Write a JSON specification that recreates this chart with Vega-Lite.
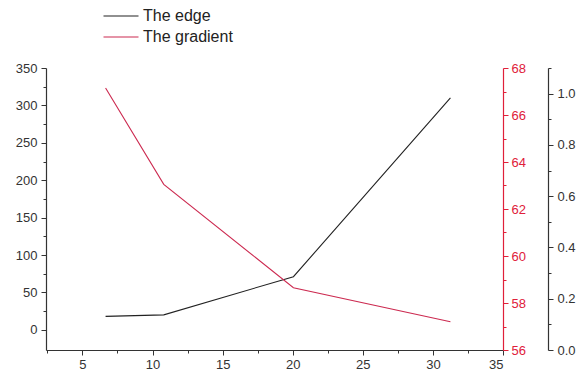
{
  "$schema": "https://vega.github.io/schema/vega-lite/v6.json",
  "width": 457,
  "height": 282,
  "autosize": {"type": "none"},
  "padding": {"left": 46, "top": 68, "right": 83, "bottom": 24},
  "background": "white",
  "config": {
    "view": {"stroke": null},
    "font": "Liberation Sans",
    "axis": {
      "grid": false,
      "labelFont": "Liberation Sans",
      "labelFontSize": 13,
      "labelColor": "#333333",
      "domainColor": "#333333",
      "tickColor": "#333333",
      "domainWidth": 1.2,
      "tickWidth": 1,
      "labelOverlap": false,
      "title": null
    }
  },
  "data": {
    "values": [
      {"x": 6.65, "edge": 18, "gradient": 67.15},
      {"x": 10.8, "edge": 20, "gradient": 63.05},
      {"x": 20.05, "edge": 71, "gradient": 58.65},
      {"x": 31.25, "edge": 310, "gradient": 57.2}
    ]
  },
  "encoding": {
    "x": {
      "field": "x", "type": "quantitative",
      "scale": {"domain": [2.4, 35], "nice": false, "zero": false},
      "axis": {
        "orient": "bottom",
        "values": [2.5, 5, 7.5, 10, 12.5, 15, 17.5, 20, 22.5, 25, 27.5, 30, 32.5, 35],
        "labelExpr": "datum.value % 5 === 0 ? datum.label : ''",
        "tickSize": {"condition": {"test": "datum.value % 5 === 0", "value": 5}, "value": 3},
        "labelPadding": 3
      }
    }
  },
  "layer": [
    {
      "mark": {"type": "line", "strokeWidth": 1.1},
      "encoding": {
        "y": {
          "field": "edge", "type": "quantitative",
          "scale": {"domain": [-27, 350], "nice": false, "zero": false},
          "axis": {
            "orient": "left",
            "values": [0, 25, 50, 75, 100, 125, 150, 175, 200, 225, 250, 275, 300, 325, 350],
            "labelExpr": "datum.value % 50 === 0 ? datum.label : ''",
            "tickSize": {"condition": {"test": "datum.value % 50 === 0", "value": 5}, "value": 3},
            "labelPadding": 4
          }
        },
        "color": {
          "datum": "The edge",
          "type": "nominal",
          "scale": {"domain": ["The edge", "The gradient"], "range": ["#222222", "#cc2a50"]},
          "legend": {
            "orient": "none",
            "legendX": 67,
            "legendY": -60,
            "title": null,
            "symbolType": "M-5,0H5",
            "symbolSize": 49,
            "symbolStrokeWidth": 1.2,
            "labelFont": "Liberation Sans",
            "labelFontSize": 16,
            "labelColor": "#222222",
            "labelOffset": 14,
            "rowPadding": 5
          }
        }
      }
    },
    {
      "mark": {"type": "line", "strokeWidth": 1.1},
      "encoding": {
        "y": {
          "field": "gradient", "type": "quantitative",
          "scale": {"domain": [56, 68], "nice": false, "zero": false},
          "axis": {
            "orient": "right",
            "values": [56, 57, 58, 59, 60, 61, 62, 63, 64, 65, 66, 67, 68],
            "labelExpr": "datum.value % 2 === 0 ? datum.label : ''",
            "tickSize": {"condition": {"test": "datum.value % 2 === 0", "value": 5}, "value": 3},
            "labelColor": "#e0203a",
            "domainColor": "#e0203a",
            "tickColor": "#e0203a",
            "labelPadding": 3
          }
        },
        "color": {"datum": "The gradient", "type": "nominal"}
      }
    },
    {
      "mark": {"type": "rule", "opacity": 0},
      "encoding": {
        "x": {"field": "x", "type": "quantitative"},
        "y": {
          "datum": 0, "type": "quantitative",
          "scale": {"domain": [0, 1.1], "nice": false, "zero": false},
          "axis": {
            "orient": "right",
            "offset": 45,
            "values": [0, 0.1, 0.2, 0.3, 0.4, 0.5, 0.6, 0.7, 0.8, 0.9, 1.0, 1.1],
            "format": ".1f",
            "labelExpr": "(round(datum.value * 10) % 2 === 0 && datum.value < 1.05) ? datum.label : ''",
            "tickSize": {"condition": {"test": "round(datum.value * 10) % 2 === 0", "value": 5}, "value": 3},
            "labelPadding": 4
          }
        }
      }
    }
  ],
  "resolve": {"scale": {"y": "independent"}}
}
